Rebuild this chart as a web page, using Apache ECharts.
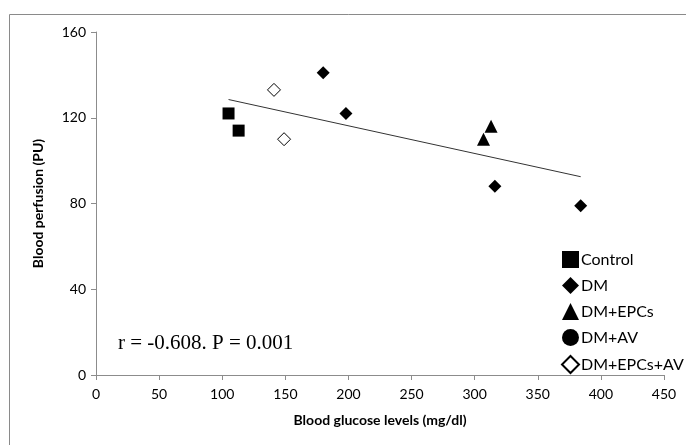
<!DOCTYPE html>
<html>
<head>
<meta charset="utf-8">
<script src="https://cdn.jsdelivr.net/npm/echarts@6/dist/echarts.min.js"></script>
<style>
  html, body { margin: 0; padding: 0; background: #fff; }
  #chart { width: 686px; height: 445px; }
</style>
</head>
<body>
<div id="chart"></div>
<script>
// values: [glucose mg/dl, perfusion PU]
const controlPts = [[105, 122], [113, 114]];
const dmPts = [[180, 141], [198, 122], [316, 88], [384, 79]];
const dmEpcsPts = [[307, 110], [313, 116]];
const dmAvPts = [];
const dmEpcsAvPts = [[141, 133], [149, 110]];
const trendPts = [[105, 128.5], [384, 92.5]];

const xTicks = [0, 450, 50];   // min, max, step
const yTicks = [0, 160, 40];
const seriesNames = ['Control', 'DM', 'DM+EPCs', 'DM+AV', 'DM+EPCs+AV'];

const axisColor = '#8c8c8c';
const chart = echarts.init(document.getElementById('chart'));

const dot = (name, data, symbol, size, style) => ({
  name, type: 'scatter', data, symbol, symbolSize: size,
  itemStyle: Object.assign({ color: '#000', opacity: 1 }, style)
});

chart.setOption({
  animation: false,
  textStyle: { fontFamily: 'Lato' },
  grid: { left: 96, right: 22, top: 32, bottom: 70 },
  graphic: [{
    type: 'rect', left: 7, top: 12, silent: true,
    shape: { width: 720, height: 460 },
    style: { fill: 'none', stroke: '#8a8a8a', lineWidth: 1 }
  }, {
    type: 'text', left: 118, top: 333,
    style: { text: 'r = -0.608. P = 0.001', font: '21px "Liberation Serif"', fill: '#000' }
  }],
  legend: {
    orient: 'vertical', left: 556, top: 246,
    itemWidth: 17, itemHeight: 17, itemGap: 9,
    data: seriesNames,
    textStyle: { fontSize: 16, fontFamily: 'Lato', color: '#000', padding: [0, 0, 0, -3] }
  },
  xAxis: {
    type: 'value', min: xTicks[0], max: xTicks[1], interval: xTicks[2],
    name: 'Blood glucose levels (mg/dl)', nameLocation: 'middle', nameGap: 38,
    nameTextStyle: { fontWeight: 'bold', fontSize: 14, color: '#000' },
    axisLine: { lineStyle: { color: axisColor } },
    axisTick: { show: true, length: 5, lineStyle: { color: axisColor } },
    axisLabel: { fontSize: 14, color: '#000', margin: 12 },
    splitLine: { show: false }
  },
  yAxis: {
    type: 'value', min: yTicks[0], max: yTicks[1], interval: yTicks[2],
    name: 'Blood perfusion (PU)', nameLocation: 'middle', nameGap: 51,
    nameTextStyle: { fontWeight: 'bold', fontSize: 14, color: '#000' },
    axisLine: { show: true, lineStyle: { color: axisColor } },
    axisTick: { show: true, length: 5, lineStyle: { color: axisColor } },
    axisLabel: { fontSize: 14, color: '#000', margin: 10 },
    splitLine: { show: false }
  },
  series: [
    dot('Control', controlPts, 'rect', 12),
    dot('DM', dmPts, 'diamond', 13),
    dot('DM+EPCs', dmEpcsPts, 'triangle', 13),
    dot('DM+AV', dmAvPts, 'circle', 13),
    dot('DM+EPCs+AV', dmEpcsAvPts, 'diamond', 13,
      { color: '#fff', borderColor: '#000', borderWidth: 1 }),
    {
      name: 'trend', type: 'line', data: trendPts, symbol: 'none',
      lineStyle: { color: '#333', width: 1 }, z: 1
    }
  ]
});
</script>
</body>
</html>
